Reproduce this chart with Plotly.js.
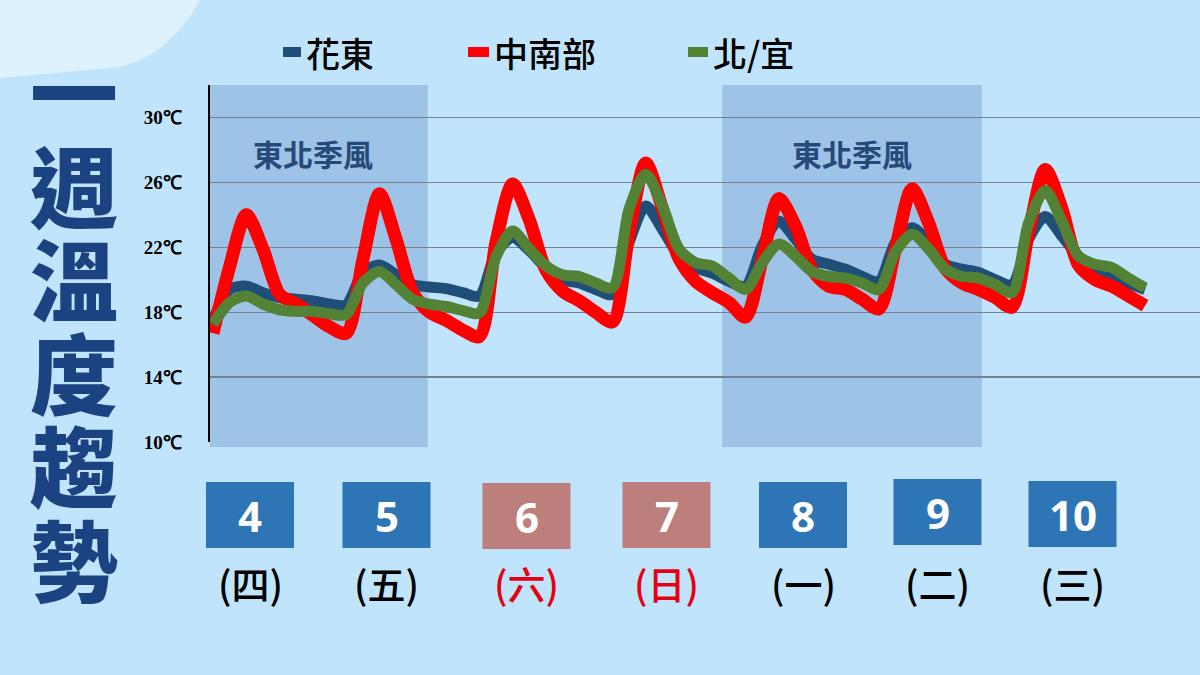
<!DOCTYPE html>
<html>
<head>
<meta charset="utf-8">
<script src="https://cdn.plot.ly/plotly-3.0.1.min.js"></script>
<style>
  html, body { margin:0; padding:0; background:#bfe4fb; }
  #chart { width:1200px; height:675px; }
</style>
</head>
<body>
<div id="chart"></div>
<script>
// ---- Data (3-hourly temperature, °C) ----
const seriesNames = ['花東', '中南部', '北/宜'];
const huadong = [17.5, 19.4, 19.6, 19.2, 18.9, 18.8, 18.7, 18.5, 18.45,
  20.4, 20.9, 20.3, 19.7, 19.55, 19.45, 19.2, 19.0,
  21.65, 22.6, 21.8, 20.75, 20.0, 19.8, 19.4, 19.1,
  22.3, 24.55, 23.1, 21.5, 20.75, 20.4, 19.9, 19.6,
  22.1, 23.6, 22.5, 21.25, 20.95, 20.65, 20.2, 19.9,
  22.3, 23.2, 22.3, 20.95, 20.65, 20.45, 20.0, 19.7,
  22.5, 23.9, 22.7, 21.45, 20.65, 20.35, 19.8, 19.4];
const central_south = [16.7, 20.8, 24.0, 21.9, 19.1, 18.5, 17.8, 17.1, 16.7,
  21.2, 25.3, 22.5, 19.2, 18.0, 17.5, 16.9, 16.5,
  22.3, 25.9, 23.7, 20.6, 19.3, 18.7, 18.0, 17.4,
  22.9, 27.2, 24.4, 21.3, 19.9, 19.2, 18.6, 17.7,
  21.3, 25.0, 23.3, 20.6, 19.6, 19.4, 18.8, 18.2,
  21.9, 25.6, 23.5, 20.7, 19.8, 19.4, 18.9, 18.3,
  22.9, 26.8, 24.4, 20.9, 20.0, 19.6, 19.0, 18.4];
const north_yilan = [17.25, 18.6, 19.0, 18.5, 18.15, 18.05, 18.05, 17.9, 17.85,
  19.8, 20.5, 19.7, 18.8, 18.5, 18.35, 18.1, 17.95,
  21.4, 23.0, 21.9, 20.85, 20.3, 20.2, 19.8, 19.5,
  24.35, 26.5, 24.55, 21.9, 21.05, 20.85, 20.1, 19.4,
  21.05, 22.2, 21.45, 20.5, 20.2, 20.1, 19.8, 19.4,
  21.7, 22.8, 21.9, 20.65, 20.2, 20.1, 19.7, 19.2,
  23.5, 25.5, 23.6, 21.45, 20.95, 20.75, 20.1, 19.5];
const yTicks = [10, 14, 18, 22, 26, 30];
const yTickLabels = ['10℃', '14℃', '18℃', '22℃', '26℃', '30℃'];
const dayNumbers = ['4', '5', '6', '7', '8', '9', '10'];
const weekdays = ['(四)', '(五)', '(六)', '(日)', '(一)', '(二)', '(三)'];
const isWeekend = [false, false, true, true, false, false, false];
const monsoonLabel = '東北季風';
const titleText = '一週溫度趨勢';

// ---- Layout constants (pixels) ----
const W = 1200, H = 675;
const M = { l: 210, r: 0, t: 85, b: 233 };
const plotW = W - M.l - M.r, plotH = H - M.t - M.b;
const px2x = px => (px - M.l) / plotW;
const py2y = py => (H - M.b - py) / plotH;
const dayBoxCenters = [250, 386.5, 526.5, 666.5, 803, 937.5, 1072.5];
const dayBoxTops = [482, 482, 483, 482, 482, 479, 481];
const monsoonBands = [[-0.18, 12.9], [30.6, 46.2]];
const monsoonLabelX = [313, 852];
const colors = ['#1f4e79', '#ff0000', '#548235'];
const widths = [11, 13, 11];

const xIdx = huadong.map((_, i) => i);
const seriesData = [huadong, central_south, north_yilan];

const traces = seriesData.map((vals, k) => ({
  type: 'scatter', mode: 'lines', name: seriesNames[k],
  x: xIdx, y: vals,
  line: { color: colors[k], width: widths[k], shape: 'spline', smoothing: 0.8 },
  hoverinfo: 'skip'
}));

const shapes = [];
const annotations = [];

// Light top-left corner
shapes.push({
  type: 'path', xref: 'paper', yref: 'paper', layer: 'below',
  path: `M ${px2x(0)},${py2y(0)} L ${px2x(200)},${py2y(0)} Q ${px2x(165)},${py2y(62)} ${px2x(110)},${py2y(68)} L ${px2x(0)},${py2y(78)} Z`,
  fillcolor: '#def2fd', line: { width: 0 }
});

// Monsoon bands
monsoonBands.forEach((b, i) => {
  shapes.push({
    type: 'rect', xref: 'x', yref: 'paper', layer: 'below',
    x0: b[0], x1: b[1], y0: py2y(447), y1: 1,
    fillcolor: '#9dc3e6', line: { width: 0 }
  });
  annotations.push({
    xref: 'paper', yref: 'paper', x: px2x(monsoonLabelX[i]), y: py2y(153),
    text: monsoonLabel, showarrow: false, xanchor: 'center', yanchor: 'middle',
    font: { family: 'Noto Sans CJK TC', size: 30, color: '#264a78', weight: 'bold' }
  });
});

// Legend (custom)
const legendSquares = [[283, 301], [468, 489], [688, 708]];
const legendTextX = [304, 492, 711];
seriesNames.forEach((n, k) => {
  shapes.push({
    type: 'rect', xref: 'paper', yref: 'paper',
    x0: px2x(legendSquares[k][0]), x1: px2x(legendSquares[k][1]),
    y0: py2y(57), y1: py2y(47), fillcolor: colors[k], line: { width: 0 }
  });
  annotations.push({
    xref: 'paper', yref: 'paper', x: px2x(legendTextX[k]), y: py2y(52),
    text: n, showarrow: false, xanchor: 'left', yanchor: 'middle',
    font: { family: 'Noto Sans CJK TC', size: 34, color: '#000', weight: 500 }
  });
});

// Day boxes
dayNumbers.forEach((d, i) => {
  const c = dayBoxCenters[i], t = dayBoxTops[i];
  shapes.push({
    type: 'rect', xref: 'paper', yref: 'paper',
    x0: px2x(c - 44), x1: px2x(c + 44), y0: py2y(t + 66), y1: py2y(t),
    fillcolor: isWeekend[i] ? '#bc7f7c' : '#2e75b6', line: { width: 0 }
  });
  annotations.push({
    xref: 'paper', yref: 'paper', x: px2x(c), y: py2y(t + 33),
    text: d, showarrow: false, xanchor: 'center', yanchor: 'middle',
    font: { family: 'Open Sans', size: 42, color: '#ffffff', weight: 'bold' }
  });
  annotations.push({
    xref: 'paper', yref: 'paper', x: px2x(c), y: py2y(582),
    text: weekdays[i], showarrow: false, xanchor: 'center', yanchor: 'middle',
    font: { family: 'Noto Sans CJK TC', size: 38, color: isWeekend[i] ? '#e60012' : '#000000', weight: 500 }
  });
});

// Vertical title: one text block, one character per line
annotations.push({
  xref: 'paper', yref: 'paper', x: px2x(74), y: py2y(322),
  text: Array.from(titleText).map(ch => `<span style="font-size:88px">${ch}</span>`).join('<br>'),
  showarrow: false, xanchor: 'center', yanchor: 'middle', align: 'center',
  font: { family: 'Noto Sans CJK TC', size: 72, color: '#1b4382', weight: 900 }
});

const layout = {
  width: W, height: H, margin: M,
  paper_bgcolor: '#bfe4fb', plot_bgcolor: 'rgba(0,0,0,0)',
  showlegend: false,
  xaxis: { range: [-0.18, 59.3], visible: false, fixedrange: true },
  yaxis: {
    range: [10, 32], tickvals: yTicks, ticktext: yTickLabels,
    showgrid: true, gridcolor: '#72828f', gridwidth: 1.2,
    showline: true, linecolor: '#000000', linewidth: 2.5,
    zeroline: false, ticks: '', ticklabelstandoff: 22,
    tickfont: { family: 'Liberation Serif', size: 19, color: '#000', weight: 'bold' },
    fixedrange: true
  },
  shapes: shapes,
  annotations: annotations
};

Plotly.newPlot('chart', traces, layout, { staticPlot: true, displayModeBar: false });
</script>
</body>
</html>
